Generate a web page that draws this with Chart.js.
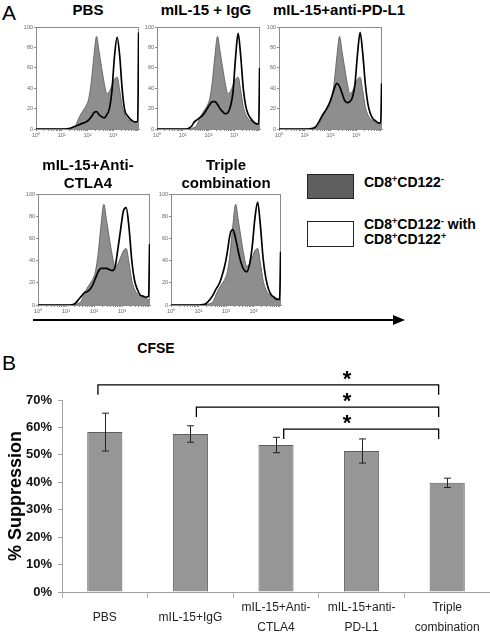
<!DOCTYPE html>
<html>
<head>
<meta charset="utf-8">
<script src="https://cdn.jsdelivr.net/npm/chart.js@4.4.1/dist/chart.umd.min.js"></script>
<style>
  html, body { margin: 0; padding: 0; background: #fff; }
  body { width: 490px; height: 644px; position: relative; overflow: hidden;
         font-family: "Liberation Sans", Arial, sans-serif; color: #000; }
  canvas { position: absolute; }
  .lbl { position: absolute; transform: translate(-50%, -50%); white-space: nowrap; text-align: center; }
  .ttl { font-weight: bold; font-size: 15px; line-height: 18px; }
  .leg { position: absolute; font-weight: bold; font-size: 14px; white-space: nowrap; }
  .leg sup { font-size: 9px; vertical-align: 5px; line-height: 0; }
  .box { position: absolute; box-sizing: border-box; border: 1.5px solid #222; }
</style>
</head>
<body>
<div class="lbl" style="left:9px;top:13px;font-size:21px;">A</div>
<div class="lbl" style="left:9px;top:363px;font-size:21px;">B</div>

<div class="box" style="left:307px;top:174px;width:47px;height:25px;background:#5f5f5f;"></div>
<div class="leg" style="left:364px;top:174px;line-height:16px;">CD8<sup>+</sup>CD122<sup>-</sup></div>
<div class="box" style="left:307px;top:221px;width:47px;height:26px;background:#fff;"></div>
<div class="leg" style="left:364px;top:217px;line-height:15px;">CD8<sup>+</sup>CD122<sup>-</sup> with<br>CD8<sup>+</sup>CD122<sup>+</sup></div>

<div style="position:absolute;left:33px;top:319px;width:362px;height:2px;background:#000;"></div>
<div style="position:absolute;left:393px;top:315px;width:0;height:0;border-left:12px solid #000;border-top:5px solid transparent;border-bottom:5px solid transparent;"></div>
<div class="lbl" style="left:156px;top:348px;font-weight:bold;font-size:14px;">CFSE</div>

<script>
// ---- panel A: CFSE histograms (x = log10 fluorescence) ----
const cfseLog = [0, 1.05, 1.15, 1.25, 1.35, 1.45, 1.55, 1.65, 1.75, 1.85, 1.95, 2.05, 2.15, 2.25, 2.35,
                 2.45, 2.55, 2.65, 2.75, 2.85, 2.95, 3.05, 3.15, 3.25, 3.35, 3.45, 3.55, 3.65, 3.75, 3.85, 3.95, 3.985];
// CD8+CD122- alone (filled grey)
const ctrlCounts = [0, 0, 0, 0.3, 0.8, 1.5, 4, 10, 15, 19, 23, 30, 47, 72, 91,
                    76, 60, 45, 35, 37, 43, 49, 51, 38, 22, 14, 10, 8, 7, 6, 5, 5];
// CD8+CD122- with CD8+CD122+ (black line)
const pbsCounts = [0, 0, 0, 0.3, 1, 2, 3, 4, 5, 6, 7, 9, 12, 16, 17,
                   14, 12, 11, 14, 20, 38, 72, 90, 72, 38, 18, 13, 10, 8, 7, 7, 95];
const iggCounts = [0, 0, 0, 1, 3, 7, 9, 11, 13, 16, 20, 24, 27, 27, 24,
                   20, 17, 15, 16, 22, 36, 70, 94, 72, 40, 22, 14, 10, 7, 5, 5, 60];
const pdl1Counts = [0, 0, 0, 0.3, 1, 3, 7, 12, 16, 20, 25, 32, 40, 45, 42,
                    35, 28, 26, 27, 31, 44, 74, 95, 75, 45, 25, 15, 10, 8, 6, 6, 45];
const ctla4Counts = [0, 0, 0, 0.3, 2, 5, 8, 11, 12, 14, 18, 24, 30, 33, 33,
                     33, 32, 31, 34, 50, 68, 85, 88, 70, 40, 22, 14, 9, 8, 7, 8, 55];
const tripleCounts = [0, 0, 0.3, 1, 3, 6, 10, 15, 19, 26, 35, 48, 64, 68, 60,
                      48, 38, 32, 30, 36, 52, 78, 93, 72, 42, 24, 14, 9, 7, 5, 5, 48];
const panelTitles = ['PBS', 'mIL-15 + IgG', 'mIL-15+anti-PD-L1', 'mIL-15+Anti-\nCTLA4', 'Triple\ncombination'];
const panelCounts = [pbsCounts, iggCounts, pdl1Counts, ctla4Counts, tripleCounts];
const decadeLabels = ['10\u2070', '10\u00b9', '10\u00b2', '10\u00b3'];

// ---- panel B: % suppression ----
const groups = ['PBS', 'mIL-15+IgG', ['mIL-15+Anti-', 'CTLA4'], ['mIL-15+anti-', 'PD-L1'], ['Triple', 'combination']];
const suppression = [58.3, 57.6, 53.6, 51.4, 39.8];
const suppressionErr = [6.9, 3.0, 2.8, 4.4, 1.7];
const sigFrom = [0, 1, 2];
const sigTo = [4, 4, 4];
const sigLevel = [75.5, 67.4, 59.4];

Chart.defaults.font.family = '"Liberation Sans", Arial, sans-serif';

// chart areas of the five histograms: [left, top, right, bottom]
const panelAreas = [[36, 26, 139, 129], [157, 26, 260, 129], [279, 26, 382, 129],
                    [38, 193, 150, 305], [171, 193, 281, 305]];
const titleCenters = [[88, 10], [206, 10], [339, 10], [88, 174], [226, 174]];

function makeCanvas(left, top, w, h) {
    const c = document.createElement('canvas');
    c.width = w; c.height = h;
    c.style.left = left + 'px'; c.style.top = top + 'px';
    c.style.width = w + 'px'; c.style.height = h + 'px';
    document.body.appendChild(c);
    return c;
}

// grey box round each histogram, under the curves
const frame = {
    id: 'frame',
    beforeDatasetsDraw(chart) {
        const { ctx, chartArea: a } = chart;
        ctx.save();
        ctx.strokeStyle = '#8a8a8a';
        ctx.lineWidth = 1;
        ctx.strokeRect(Math.round(a.left) + 0.5, Math.round(a.top) + 0.5,
            Math.round(a.right - a.left) - 1, Math.round(a.bottom - a.top));
        ctx.restore();
    }
};

const logTicks = [];
for (let n = 0; n < 4; n++) {
    for (let k = 1; k < 10; k++) logTicks.push(n + Math.log10(k));
}

function toPoints(ys) {
    return cfseLog.map((x, i) => ({ x, y: ys[i] }));
}

panelCounts.forEach((counts, i) => {
    const [x0, y0, x1, y1] = panelAreas[i];
    const canvas = makeCanvas(x0 - 14, y0 - 3, x1 - x0 + 16, y1 - y0 + 14);

    const t = document.createElement('div');
    t.className = 'lbl ttl';
    t.style.left = titleCenters[i][0] + 'px';
    t.style.top = titleCenters[i][1] + 'px';
    t.innerHTML = panelTitles[i].replace('\n', '<br>');
    document.body.appendChild(t);

    new Chart(canvas, {
        type: 'line',
        data: {
            datasets: [{
                data: toPoints(counts),
                borderColor: '#000',
                borderWidth: 1.7,
                pointRadius: 0,
                fill: false,
                cubicInterpolationMode: 'monotone',
                order: 0
            }, {
                data: toPoints(ctrlCounts),
                borderColor: '#6a6a6a',
                borderWidth: 1,
                backgroundColor: '#8e8e8e',
                pointRadius: 0,
                fill: 'origin',
                cubicInterpolationMode: 'monotone',
                order: 1
            }]
        },
        options: {
            responsive: false,
            animation: false,
            events: [],
            layout: { padding: { top: 3, right: 2, left: 0, bottom: 0 } },
            plugins: { legend: { display: false }, tooltip: { enabled: false } },
            scales: {
                x: {
                    type: 'linear', min: 0, max: 4,
                    afterBuildTicks: (s) => { s.ticks = logTicks.map((v) => ({ value: v })); },
                    afterFit: (s) => { s.height = 11; },
                    grid: { drawOnChartArea: false, tickLength: 2, color: '#8a8a8a' },
                    border: { color: '#8a8a8a' },
                    ticks: {
                        autoSkip: false, maxRotation: 0, padding: 1,
                        font: { size: 5.5 }, color: '#666',
                        callback: (v) => (Number.isInteger(v) ? decadeLabels[v] : '')
                    }
                },
                y: {
                    min: 0, max: 100,
                    afterFit: (s) => { s.width = 14; },
                    grid: { drawOnChartArea: false, tickLength: 2, color: '#8a8a8a' },
                    border: { color: '#8a8a8a' },
                    ticks: { stepSize: 20, padding: 1, font: { size: 5.5 }, color: '#666' }
                }
            }
        },
        plugins: [frame]
    });
});

// ---- bar chart ----
const errorBars = {
    id: 'errorBars',
    afterDatasetsDraw(chart) {
        const { ctx } = chart;
        const y = chart.scales.y;
        const meta = chart.getDatasetMeta(0);
        ctx.save();
        ctx.strokeStyle = '#222';
        ctx.lineWidth = 1;
        meta.data.forEach((bar, i) => {
            const x = Math.round(bar.x) + 0.5;
            const top = y.getPixelForValue(suppression[i] + suppressionErr[i]);
            const bot = y.getPixelForValue(suppression[i] - suppressionErr[i]);
            ctx.beginPath();
            ctx.moveTo(x, top); ctx.lineTo(x, bot);
            ctx.moveTo(x - 3.5, top); ctx.lineTo(x + 3.5, top);
            ctx.moveTo(x - 3.5, bot); ctx.lineTo(x + 3.5, bot);
            ctx.stroke();
        });
        ctx.restore();
    }
};

const brackets = {
    id: 'brackets',
    afterDatasetsDraw(chart, args, opts) {
        const { ctx } = chart;
        const xs = chart.scales.x;
        const ys = chart.scales.y;
        ctx.save();
        ctx.strokeStyle = '#000';
        ctx.lineWidth = 1.3;
        ctx.fillStyle = '#000';
        ctx.font = 'bold 22px "Liberation Sans", Arial, sans-serif';
        ctx.textAlign = 'center';
        ctx.textBaseline = 'alphabetic';
        sigFrom.forEach((from, k) => {
            const xl = xs.getPixelForValue(from + opts.leftNudge[k]);
            const xr = xs.getPixelForValue(sigTo[k] + opts.rightNudge);
            const yl = ys.getPixelForValue(sigLevel[k]);
            const yd = ys.getPixelForValue(sigLevel[k] - opts.drop);
            ctx.beginPath();
            ctx.moveTo(xl, yd); ctx.lineTo(xl, yl); ctx.lineTo(xr, yl); ctx.lineTo(xr, yd);
            ctx.stroke();
            const ys2 = ys.getPixelForValue(sigLevel[k] + opts.starRise);
            ctx.fillText('*', xs.getPixelForValue(opts.starAt), ys2 + 12.5);
        });
        ctx.restore();
    }
};

new Chart(makeCanvas(0, 360, 490, 284), {
    type: 'bar',
    data: {
        labels: groups,
        datasets: [{
            data: suppression,
            backgroundColor: '#969696',
            borderColor: '#5e5e5e',
            borderWidth: 1,
            categoryPercentage: 1,
            barPercentage: 0.41
        }]
    },
    options: {
        responsive: false,
        animation: false,
        events: [],
        layout: { padding: { top: 40, right: 0, left: 0, bottom: 0 } },
        plugins: {
            legend: { display: false },
            tooltip: { enabled: false },
            brackets: { leftNudge: [-0.08, 0.07, 0.09], rightNudge: -0.1, drop: 3.6, starRise: 4.3, starAt: 2.83 }
        },
        scales: {
            x: {
                afterFit: (s) => { s.height = 52; },
                grid: { offset: true, drawOnChartArea: false, tickLength: 6, color: '#b0b0b0' },
                border: { color: '#a0a0a0' },
                ticks: {
                    autoSkip: false, maxRotation: 0, padding: 10, crossAlign: 'center',
                    font: { size: 12, lineHeight: 1.65 }, color: '#222'
                }
            },
            y: {
                min: 0, max: 70,
                afterFit: (s) => { s.width = 62; },
                grid: { drawOnChartArea: false, tickLength: 4, color: '#a0a0a0' },
                border: { color: '#a0a0a0' },
                ticks: {
                    stepSize: 10, padding: 6, color: '#111',
                    font: { size: 13, weight: 'bold' },
                    callback: (v) => v + '%'
                },
                title: {
                    display: true, text: '% Suppression', color: '#000',
                    font: { size: 18, weight: 'bold' }, padding: { top: 5, bottom: 0 }
                }
            }
        }
    },
    plugins: [errorBars, brackets]
});
</script>
</body>
</html>
